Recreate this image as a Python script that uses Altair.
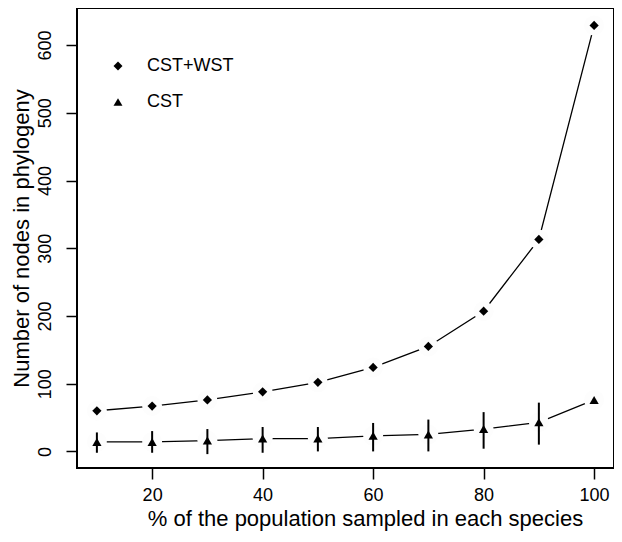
import altair as alt
import pandas as pd

# Data
pct = [10, 20, 30, 40, 50, 60, 70, 80, 90, 100]
cst_wst = [60, 67, 76, 88, 102, 124, 155, 207, 313, 629]
cst = [14, 14, 16, 19, 19, 23, 25, 33, 43, 76]
cst_lo = [-2, -2, -4, -2, 0, 0, 0, 4, 10, 76]
cst_hi = [28, 30, 33, 36, 36, 42, 47, 58, 72, 76]

series_names = ["CST+WST", "CST"]
x_ticks = [20, 40, 60, 80, 100]
y_ticks = [0, 100, 200, 300, 400, 500, 600]

rows = []
for i, p in enumerate(pct):
    rows.append({"x": p, "y": cst_wst[i], "lo": cst_wst[i], "hi": cst_wst[i], "series": "CST+WST"})
for i, p in enumerate(pct):
    rows.append({"x": p, "y": cst[i], "lo": cst_lo[i], "hi": cst_hi[i], "series": "CST"})
df = pd.DataFrame(rows)
err_df = df[(df["series"] == "CST") & (df["hi"] > df["lo"])]

FONT = "Liberation Sans"
W, H = 537, 460

x_scale = alt.Scale(domain=[6.4, 103.6], nice=False, zero=False)
y_scale = alt.Scale(domain=[-24.5, 654.7], nice=False, zero=False)

x_axis = alt.Axis(
    title="% of the population sampled in each species",
    values=x_ticks, grid=False, domain=False,
    tickSize=11, tickWidth=1.5, tickColor="black",
    labelFont=FONT, labelFontSize=18, labelColor="black",
    labelBaseline="alphabetic", labelPadding=21,
    titleFont=FONT, titleFontSize=22, titleFontWeight="normal", titleColor="black",
    titleAlign="center", titleBaseline="alphabetic", titleX=288, titleY=57,
)
y_axis = alt.Axis(
    title="Number of nodes in phylogeny",
    values=y_ticks, grid=False, domain=False,
    tickSize=11, tickWidth=1.5, tickColor="black",
    labelFont=FONT, labelFontSize=18, labelColor="black",
    labelAngle=270, labelAlign="center", labelBaseline="alphabetic", labelPadding=16,
    titleFont=FONT, titleFontSize=22, titleFontWeight="normal", titleColor="black",
    titleAngle=270, titleAlign="center", titleBaseline="alphabetic",
    titleX=-49, titleY=H / 2,
)

X = alt.X("x:Q", scale=x_scale, axis=x_axis, title="% of the population sampled in each species")
Y = alt.Y("y:Q", scale=y_scale, axis=y_axis, title="Number of nodes in phylogeny")

base = alt.Chart(df)

lines = base.mark_line(color="black", strokeWidth=1.3).encode(
    x=X, y=Y, detail="series:N"
)

# near-white discs break the line around each point (R type="b" look)
gaps = base.mark_point(shape="circle", filled=True, opacity=1, size=400).encode(
    x=X, y=Y, color=alt.value("#fdfdfd")
)

errs = alt.Chart(err_df).mark_rule(color="black", strokeWidth=2).encode(
    x=X,
    y=alt.Y("lo:Q", scale=y_scale, axis=y_axis, title="Number of nodes in phylogeny"),
    y2="hi:Q",
)

points = base.mark_point(filled=True, color="black", opacity=1, size=85).encode(
    x=X,
    y=Y,
    shape=alt.Shape(
        "series:N",
        scale=alt.Scale(domain=series_names, range=["diamond", "triangle-up"]),
        legend=alt.Legend(
            title=None, orient="none", legendX=32, legendY=49,
            symbolSize=80, symbolFillColor="black", symbolStrokeColor="black",
            labelFont=FONT, labelFontSize=18, labelColor="black",
            labelOffset=20, rowPadding=18, padding=0,
        ),
    ),
)

chart = (
    alt.layer(lines, gaps, errs, points)
    .properties(
        width=W, height=H,
        autosize=alt.AutoSizeParams(type="none"),
        padding={"left": 69, "top": 0, "right": 0, "bottom": 66},
        background="white",
    )
    .configure_view(stroke="black", strokeWidth=2)
)

chart.save("out.html", embed_options={"renderer": "svg", "actions": False})
